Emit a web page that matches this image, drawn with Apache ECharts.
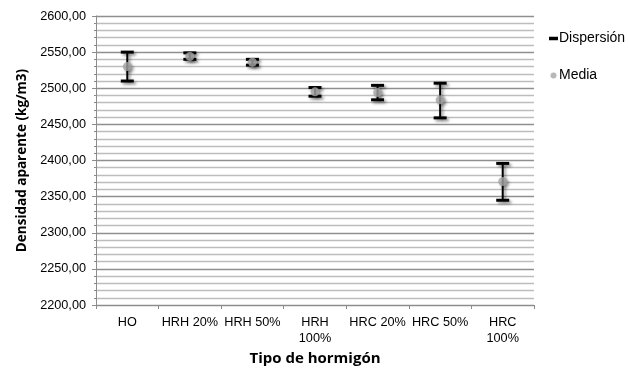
<!DOCTYPE html>
<html>
<head>
<meta charset="utf-8">
<script src="https://cdn.jsdelivr.net/npm/echarts@6/dist/echarts.min.js"></script>
<style>
  html, body { margin: 0; padding: 0; background: #fff; }
  #chart { width: 629px; height: 371px; }
</style>
</head>
<body>
<div id="chart"></div>
<script>
// Tipos de hormigón
const categories = ['HO', 'HRH 20%', 'HRH 50%', 'HRH\n100%', 'HRC 20%', 'HRC 50%', 'HRC\n100%'];
// Densidad aparente media (kg/m3)
const media = [2530, 2544, 2536, 2495, 2494, 2484, 2371];
// Dispersión: valores mínimo y máximo
const minimos = [2510, 2540, 2532, 2489, 2484, 2459, 2345];
const maximos = [2550, 2549, 2540, 2501, 2504, 2507, 2396];
// Eje Y
const yMin = 2200, yMax = 2600, yStep = 50;

const dispersion = categories.map((c, i) => [i, minimos[i], maximos[i]]);

const shadow = {
  shadowBlur: 3,
  shadowColor: 'rgba(0,0,0,0.45)',
  shadowOffsetX: 2,
  shadowOffsetY: 2
};

function renderBar(params, api) {
  const x = api.value(0);
  const lo = api.coord([x, api.value(1)]);
  const hi = api.coord([x, api.value(2)]);
  const half = 6.5;
  return {
    type: 'group',
    children: [
      { type: 'line', shape: { x1: lo[0], y1: lo[1], x2: hi[0], y2: hi[1] },
        style: Object.assign({ stroke: '#000', lineWidth: 2 }, shadow) },
      { type: 'line', shape: { x1: hi[0] - half, y1: hi[1], x2: hi[0] + half, y2: hi[1] },
        style: Object.assign({ stroke: '#000', lineWidth: 3 }, shadow) },
      { type: 'line', shape: { x1: lo[0] - half, y1: lo[1], x2: lo[0] + half, y2: lo[1] },
        style: Object.assign({ stroke: '#000', lineWidth: 3 }, shadow) }
    ]
  };
}

const chart = echarts.init(document.getElementById('chart'), null, { renderer: 'canvas' });
chart.setOption({
  animation: false,
  backgroundColor: '#fff',
  textStyle: { fontFamily: 'Liberation Sans, Arial, sans-serif' },
  grid: { left: 96, right: 95, top: 16, bottom: 66, containLabel: false },
  legend: {
    orient: 'vertical',
    left: 544,
    top: 26,
    itemGap: 22,
    itemWidth: 9,
    itemHeight: 6,
    textStyle: { fontSize: 14, lineHeight: 15, color: '#000', fontFamily: 'Liberation Sans, Arial, sans-serif', padding: [0, 0, 0, -4] },
    data: [
      { name: 'Dispersión', icon: 'path://M0,0H9V3.5H0Z', itemStyle: { color: '#000' } },
      { name: 'Media', icon: 'circle', itemStyle: { color: '#a6a6a6' } }
    ]
  },
  xAxis: {
    type: 'category',
    data: categories,
    name: 'Tipo de hormigón',
    nameLocation: 'middle',
    nameGap: 42,
    nameTextStyle: { fontFamily: 'Open Sans, sans-serif', fontWeight: 'bold', fontSize: 15, color: '#000' },
    axisLine: { lineStyle: { color: '#8c8c8c', width: 1 } },
    axisTick: { show: true, length: 4, lineStyle: { color: '#8c8c8c' } },
    axisLabel: { fontSize: 12.7, color: '#000', margin: 9, lineHeight: 16, interval: 0 },
    splitLine: { show: false }
  },
  yAxis: {
    type: 'value',
    min: yMin,
    max: yMax,
    interval: yStep,
    name: 'Densidad aparente (kg/m3)',
    nameLocation: 'middle',
    nameGap: 63,
    nameRotate: 90,
    nameTextStyle: { fontFamily: 'Open Sans, sans-serif', fontWeight: 'bold', fontSize: 13.5, color: '#000' },
    axisLine: { show: true, lineStyle: { color: '#8c8c8c', width: 1 } },
    axisTick: { show: true, length: 4, lineStyle: { color: '#8c8c8c' } },
    minorTick: { show: true, splitNumber: 5, length: 2, lineStyle: { color: '#8c8c8c' } },
    axisLabel: {
      fontSize: 12.7, color: '#000', margin: 10,
      formatter: v => v.toFixed(2).replace('.', ',')
    },
    splitLine: { show: true, lineStyle: { color: '#8f8f8f', width: 1.3 } },
    minorSplitLine: { show: true, lineStyle: { color: '#bdbdbd', width: 1.3 } }
  },
  series: [
    {
      name: 'Dispersión',
      type: 'custom',
      renderItem: renderBar,
      encode: { x: 0, y: [1, 2] },
      itemStyle: { color: '#000' },
      data: dispersion,
      z: 3
    },
    {
      name: 'Media',
      type: 'scatter',
      symbol: 'circle',
      symbolSize: 9,
      itemStyle: Object.assign({ color: '#a6a6a6' }, shadow),
      data: media,
      z: 4
    }
  ]
});
</script>
</body>
</html>
